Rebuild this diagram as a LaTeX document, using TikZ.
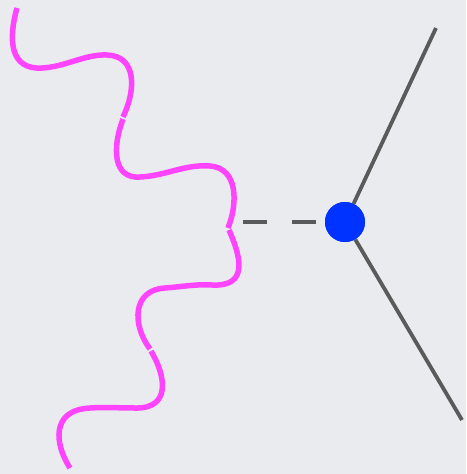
\documentclass[tikz,border=0pt]{standalone}
\usetikzlibrary{calc}
\definecolor{bgc}{HTML}{E9EBEE}
\definecolor{photon}{HTML}{FF44FF}
\definecolor{lineg}{HTML}{5A5A5A}
\definecolor{dotblue}{HTML}{0033FF}
\begin{document}
\begin{tikzpicture}[x=1pt,y=-1pt,
  wave/.style={photon,line width=5.5pt},
  leg/.style={lineg,line width=3.8pt},
  vertex/.style={circle,fill=dotblue,minimum size=40pt,inner sep=0pt}]
\fill[bgc] (0,0) rectangle (466,474);
\useasboundingbox (0,0) rectangle (466,474);
% photon (wavy) line, four segments
\draw[wave] (17,8) .. controls (8,40) and (10,70) .. (42,68)
  .. controls (65,67) and (85,54) .. (107,55)
  .. controls (137,56) and (136,90) .. (123,117);
\draw[wave] (123,119) .. controls (112,148) and (113,179) .. (140,177)
  .. controls (165,176) and (185,164) .. (210,166)
  .. controls (238,168) and (238,203) .. (228,228);
\draw[wave] (229,230) .. controls (240,255) and (250,287) .. (212,285)
  .. controls (195,284) and (180,287) .. (165,288)
  .. controls (132,290) and (132,325) .. (150,349);
\draw[wave] (151,351) .. controls (167,378) and (170,409) .. (135,408)
  .. controls (120,408) and (105,407) .. (90,408)
  .. controls (50,410) and (55,445) .. (70,468);
% vertex and legs
\node[vertex] (v) at (345,222) {};
\coordinate (a) at (436,28);
\coordinate (b) at (462,420);
\coordinate (d) at (243,222);
\draw[leg] (v) -- (a);
\draw[leg] (v) -- (b);
\draw[leg,dash pattern=on 24pt off 25pt] (d) -- (v.west);
\node[vertex] at (v) {};
\end{tikzpicture}
\end{document}
